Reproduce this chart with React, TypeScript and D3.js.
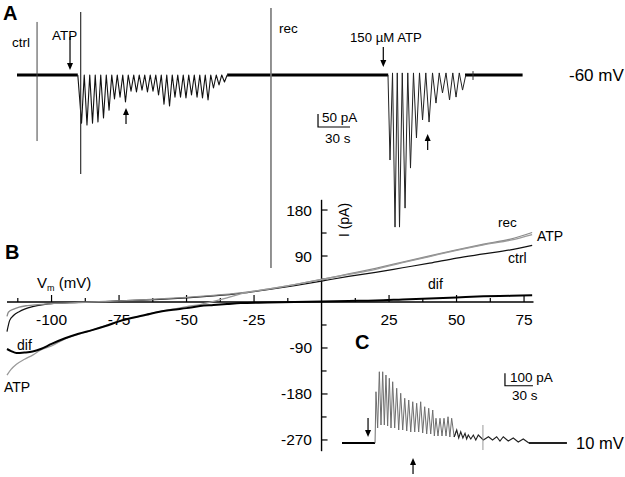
import React from "react";
import * as d3 from "d3";

const W = 625;
const H = 477;
const FONT = "'Liberation Sans', Arial, Helvetica, sans-serif";

// ---------- panel A : current at -60 mV (time s, current pA)
const aBaselineSegs = [
  [0, 57],
  [197, 348],
  [420, 474],
];
const burst1Onset = 57;
const burst1Recovery = 0;
const burst1Troughs = [
  [60.5, -185], [65.6, -192], [70.8, -185], [75.9, -181], [81.1, -165],
  [86.3, -135], [91.4, -92], [96.6, -85], [101.7, -104], [106.9, -62],
  [112, -65], [117.2, -58], [122.3, -65], [127.5, -62], [132.7, -77],
  [137.8, -112], [143, -119], [148.1, -85], [153.3, -85], [158.4, -88],
  [163.6, -77], [168.8, -85], [173.9, -88], [179.1, -96], [184.2, -50],
  [189.4, -38], [194.5, -27],
];
const burst2Onset = 347.8;
const burst2Recovery = 8;
const burst2Troughs = [
  [349.7, -327], [354.4, -585], [358.6, -585], [363.8, -512], [368.9, -358],
  [374.5, -242], [380.2, -173], [386.3, -181], [392.8, -108], [398.9, -69],
  [405.5, -96], [411.6, -85], [417.7, -58],
];
// switching artifacts: name, time, top, bottom
const aArtifacts = [
  { name: "ctrl", t: 18.8, top: 204, bottom: -254 },
  { name: "ATP", t: 59.7, top: 242, bottom: -381 },
  { name: "rec", t: 238.1, top: 258, bottom: -742 },
  { name: "small", t: 427.5, top: 15, bottom: -19 },
];
const aArrows = [
  { t: 49.7, from: 146, to: 19 },
  { t: 102.2, from: -188, to: -127 },
  { t: 343.4, from: 108, to: 31 },
  { t: 385, from: -288, to: -227 },
];
const aScaleBar = { t: 282.2, i: -200, dt: 30, di: 50 };

// ---------- panel B : I-V relations (mV, pA)
const ivCtrl = [
  [-116.5, -58], [-115.5, -36], [-114, -26], [-112, -19], [-110, -14], [-107, -9],
  [-103, -5], [-100, -3], [-90, -1], [-80, 1], [-70, 3], [-60, 5], [-50, 8],
  [-40, 12], [-30, 17], [-20, 24], [-10, 32], [0, 41], [10, 50], [20, 58],
  [30, 67], [40, 76], [50, 86], [60, 94], [70, 102], [78, 111],
];
const ivAtp = [
  [-116.5, -143], [-115, -132], [-113, -122], [-110, -112], [-107, -104],
  [-104, -94], [-100, -86], [-95, -72], [-90, -63], [-85, -55], [-80, -46],
  [-75, -37], [-70, -31], [-65, -25], [-60, -19], [-55, -14], [-50, -9],
  [-45, -5], [-40, 1], [-35, 8], [-30, 16], [-20, 25], [-10, 34], [0, 44],
  [10, 54], [20, 64], [30, 77], [40, 89], [50, 101], [60, 112], [70, 121],
  [78, 132],
];
const ivRec = [
  [-116.5, -28], [-116, -20], [-114, -14], [-112, -10], [-109, -7], [-105, -5],
  [-100, -3], [-90, -1], [-80, 1], [-70, 3], [-60, 6], [-50, 9], [-40, 13],
  [-30, 18], [-20, 25], [-10, 34], [0, 44], [10, 55], [20, 66], [30, 78],
  [40, 90], [50, 102], [60, 113], [70, 123], [78, 136],
];
const ivDif = [
  [-116.5, -92], [-115, -96], [-113, -100], [-110, -99], [-107, -97],
  [-104, -92], [-100, -82], [-95, -71], [-90, -62], [-85, -55], [-80, -47],
  [-75, -38], [-70, -31], [-65, -25], [-60, -19], [-55, -15], [-50, -12],
  [-45, -8], [-40, -6], [-35, -4], [-30, -2], [-20, -1], [-10, 0], [0, 1],
  [10, 2], [20, 3], [30, 5], [40, 7], [50, 9], [60, 11], [70, 12], [78, 13],
];
const vTicks = [-112.5, -100, -87.5, -75, -62.5, -50, -37.5, -25, -12.5, 12.5, 25, 37.5, 50, 62.5, 75];
const vLabels = [-100, -75, -50, -25, 25, 50, 75];
const iTicks = [180, 135, 90, 45, -45, -90, -135, -180, -225, -270];
const iLabels = [180, 90, -90, -180, -270];

// ---------- panel C : current at 10 mV
const cTraceEnd = 241;
const cOnset = 35.4;
const cPeaks = [
  [36.4, 410], [40, 570], [43.6, 570], [47.1, 544], [50.7, 518], [54.3, 490],
  [58.6, 438], [62.9, 398], [67.2, 358], [71.5, 344], [75.8, 330], [80, 318],
  [84.3, 330], [88.6, 290], [92.9, 278], [97.2, 264], [100.7, 198], [105, 198],
  [109.3, 198], [113.6, 210], [117.5, 198], [122.9, 104], [127.2, 90],
  [131.8, 78], [135.3, 64], [140.7, 64], [146, 64], [156.9, 50], [165.7, 50],
  [172.8, 50], [183.5, 40], [194.2, 32],
];
const cTroughs = [
  120, 144, 144, 136, 120, 120, 104, 104, 96, 88, 88, 88, 80, 72, 72, 56, 56,
  56, 56, 48, 48, 40, 40, 32, 32, 24, 24, 24, 16, 16, 8,
];
const cArtifact = { t: 151, top: 144, bottom: -56 };
const cArrows = [
  { t: 27.9, from: 200, to: 48 },
  { t: 76.1, from: -248, to: -120 },
];
const cScaleBar = { t: 174.6, i: 458, dt: 30, di: 100 };

// scales
const xA = d3.scaleLinear().domain([0, 480]).range([17, 529]);
const yA = d3.scaleLinear().domain([0, -100]).range([75, 101]);
const xB = d3.scaleLinear().domain([-116.5, 78.5]).range([7, 533.5]);
const yB = d3.scaleLinear().domain([-292, 200]).range([451.2, 199.8]);
const xC = d3.scaleLinear().domain([0, 240]).range([342, 566]);
const yC = d3.scaleLinear().domain([0, 100]).range([443, 430.5]);

function burstVertices(onset, troughs, recovery) {
  const pts = [[onset, 0]];
  troughs.forEach((d, i) => {
    pts.push(d);
    const next = troughs[i + 1];
    if (next) pts.push([(d[0] + next[0]) / 2, recovery]);
  });
  const last = troughs[troughs.length - 1];
  const prev = troughs[troughs.length - 2];
  pts.push([last[0] + (last[0] - prev[0]) / 2, 0]);
  return pts;
}

function cVertices() {
  const pts = [[cOnset, 0]];
  cPeaks.forEach((p, i) => {
    pts.push(p);
    const next = cPeaks[i + 1];
    if (next) pts.push([(p[0] + next[0]) / 2, cTroughs[i]]);
  });
  pts.push([cPeaks[cPeaks.length - 1][0] + 6, 0]);
  return pts;
}

const Arrow = ({ x, y1, y2 }) => {
  // arrow from y1 (tail) to y2 (tip)
  const dir = y2 > y1 ? 1 : -1;
  const hl = 7;
  return (
    <g>
      <line x1={x} x2={x} y1={y1} y2={y2 - dir * hl} stroke="#000" strokeWidth={1.2} />
      <path d={`M${x},${y2} L${x - 3},${y2 - dir * hl} L${x + 3},${y2 - dir * hl} Z`} fill="#000" />
    </g>
  );
};

export default function App() {
  const lineA = d3.line().x((d) => xA(d[0])).y((d) => yA(d[1]));
  const lineB = d3.line().x((d) => xB(d[0])).y((d) => yB(d[1])).curve(d3.curveMonotoneX);
  const lineC = d3.line().x((d) => xC(d[0])).y((d) => yC(d[1]));

  const b1 = burstVertices(burst1Onset, burst1Troughs, burst1Recovery);
  const b2 = burstVertices(burst2Onset, burst2Troughs, burst2Recovery);
  const cv = cVertices();
  const cSplit = 122;
  const cHead = cv.filter((d) => d[0] <= cSplit + 3);
  const cTail = cv.filter((d) => d[0] >= cSplit - 3);

  const artColor = { ctrl: "#444", ATP: "#333", rec: "#777", small: "#333" };
  const artWidth = { ctrl: 1, ATP: 1.2, rec: 1.6, small: 1 };

  const txt = { fontFamily: FONT, fill: "#000" };

  return (
    <svg
      width={W}
      height={H}
      style={{ position: "absolute", left: 0, top: 0, background: "#fff" }}
    >
      {/* ---------------- panel A */}
      <text x={3} y={20} fontSize={20} fontWeight="bold" style={txt}>A</text>
      {aBaselineSegs.map((s, i) => (
        <path key={i} d={lineA([[s[0], 0], [s[1], 0]])} stroke="#000" strokeWidth={2.8} fill="none" />
      ))}
      <path d={lineA(b1)} stroke="#111" strokeWidth={1.1} fill="none" strokeLinejoin="round" />
      <path d={lineA(b2)} stroke="#222" strokeWidth={1} fill="none" strokeLinejoin="round" />
      {aArtifacts.map((a) => (
        <line
          key={a.name}
          x1={xA(a.t)}
          x2={xA(a.t)}
          y1={yA(a.top)}
          y2={yA(a.bottom)}
          stroke={artColor[a.name]}
          strokeWidth={artWidth[a.name]}
        />
      ))}
      {aArrows.map((a, i) => (
        <Arrow key={i} x={xA(a.t)} y1={yA(a.from)} y2={yA(a.to)} />
      ))}
      <text x={12} y={47} fontSize={13.5} style={txt}>ctrl</text>
      <text x={52} y={40} fontSize={13.5} style={txt}>ATP</text>
      <text x={279} y={33} fontSize={13.5} style={txt}>rec</text>
      <text x={350} y={42} fontSize={13.2} style={txt}>150 µM ATP</text>
      <text x={569} y={81} fontSize={17} style={txt}>-60 mV</text>
      <path
        d={`M${xA(aScaleBar.t)},${yA(aScaleBar.i + aScaleBar.di)} V${yA(aScaleBar.i)} H${xA(aScaleBar.t + aScaleBar.dt)}`}
        stroke="#000"
        strokeWidth={1.2}
        fill="none"
      />
      <text x={322} y={122} fontSize={13.5} style={txt}>50 pA</text>
      <text x={325} y={143} fontSize={13.5} style={txt}>30 s</text>

      {/* ---------------- panel B */}
      <text x={5} y={259} fontSize={20} fontWeight="bold" style={txt}>B</text>
      <line x1={xB.range()[0]} x2={xB.range()[1]} y1={yB(0)} y2={yB(0)} stroke="#000" strokeWidth={1.4} />
      <line x1={xB(0)} x2={xB(0)} y1={yB.range()[0]} y2={yB.range()[1]} stroke="#000" strokeWidth={1.4} />
      {vTicks.map((v) => (
        <line
          key={v}
          x1={xB(v)}
          x2={xB(v)}
          y1={yB(0)}
          y2={yB(0) - (vLabels.includes(v) ? 7 : 4)}
          stroke="#000"
          strokeWidth={1.2}
        />
      ))}
      {vLabels.map((v) => (
        <text key={v} x={xB(v)} y={325} fontSize={15.5} textAnchor="middle" style={txt}>
          {v}
        </text>
      ))}
      {iTicks.map((v) => (
        <line
          key={v}
          x1={xB(0)}
          x2={xB(0) + (iLabels.includes(v) ? 6 : 5)}
          y1={yB(v)}
          y2={yB(v)}
          stroke="#000"
          strokeWidth={1.2}
        />
      ))}
      {iLabels.map((v) => (
        <text key={v} x={312} y={yB(v) + 5.5} fontSize={15.5} textAnchor="end" style={txt}>
          {v}
        </text>
      ))}
      <path d={lineB(ivCtrl)} stroke="#111" strokeWidth={1.2} fill="none" />
      <path d={lineB(ivRec)} stroke="#8a8a8a" strokeWidth={1.3} fill="none" />
      <path d={lineB(ivAtp)} stroke="#9a9a9a" strokeWidth={1.3} fill="none" />
      <path d={lineB(ivDif)} stroke="#000" strokeWidth={2} fill="none" />
      <text x={37} y={288} fontSize={15} style={txt}>
        V<tspan fontSize={9} dy={3}>m</tspan>
        <tspan dy={-3}> (mV)</tspan>
      </text>
      <text
        transform={`translate(349,220) rotate(-90)`}
        fontSize={14}
        textAnchor="middle"
        style={txt}
      >
        I (pA)
      </text>
      <text x={498} y={227} fontSize={13.5} style={txt}>rec</text>
      <text x={537} y={241} fontSize={14} style={txt}>ATP</text>
      <text x={508} y={263} fontSize={14} style={txt}>ctrl</text>
      <text x={428} y={289} fontSize={14} style={txt}>dif</text>
      <text x={17} y={350} fontSize={14} style={txt}>dif</text>
      <text x={4} y={392} fontSize={14} style={txt}>ATP</text>

      {/* ---------------- panel C */}
      <text x={355} y={349} fontSize={20} fontWeight="bold" style={txt}>C</text>
      <path d={lineC([[0, 0], [cOnset, 0]])} stroke="#000" strokeWidth={2.2} fill="none" />
      <path d={lineC(cHead)} stroke="#6e6e6e" strokeWidth={1} fill="none" />
      <path d={lineC(cTail)} stroke="#222" strokeWidth={1.1} fill="none" />
      <path d={lineC([[cPeaks[cPeaks.length - 1][0] + 6, 0], [cTraceEnd, 0]])} stroke="#222" strokeWidth={1.8} fill="none" />
      <line
        x1={xC(cArtifact.t)}
        x2={xC(cArtifact.t)}
        y1={yC(cArtifact.top)}
        y2={yC(cArtifact.bottom)}
        stroke="#999"
        strokeWidth={1}
      />
      {cArrows.map((a, i) => (
        <Arrow key={i} x={xC(a.t)} y1={yC(a.from)} y2={yC(a.to)} />
      ))}
      <path
        d={`M${xC(cScaleBar.t)},${yC(cScaleBar.i + cScaleBar.di)} V${yC(cScaleBar.i)} H${xC(cScaleBar.t + cScaleBar.dt)}`}
        stroke="#000"
        strokeWidth={1.2}
        fill="none"
      />
      <text x={510} y={382} fontSize={13.5} style={txt}>100 pA</text>
      <text x={512} y={400} fontSize={13.5} style={txt}>30 s</text>
      <text x={576} y={449} fontSize={16.5} style={txt}>10 mV</text>
    </svg>
  );
}
